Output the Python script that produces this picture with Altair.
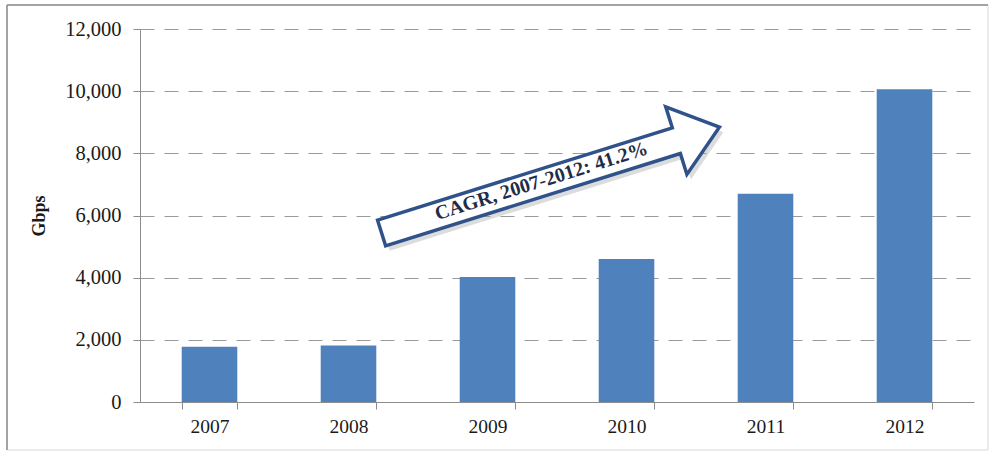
import altair as alt
import pandas as pd

years = ["2007", "2008", "2009", "2010", "2011", "2012"]
gbps = [1780, 1820, 4020, 4600, 6700, 10060]

y_ticks = [0, 2000, 4000, 6000, 8000, 10000, 12000]
y_title = "Gbps"

note_text = ["CAGR, 2007-2012: 41.2%"]
note_year = ["2009"]
arrow_value = [7140]
text_value = [6930]

df = pd.DataFrame({"year": years, "gbps": gbps})
ann = pd.DataFrame({"year": note_year, "arrow_v": arrow_value, "text_v": text_value, "label": note_text})

FONT = "Liberation Serif"

xscale = alt.Scale(domain=years, paddingInner=0.6, paddingOuter=0.3)
yscale = alt.Scale(domain=[0, 12000], nice=False)

bars = alt.Chart(df).mark_bar(color="#4F81BD").encode(
    x=alt.X("year:N", scale=xscale, sort=years,
            axis=alt.Axis(title=None, labelAngle=0, tickBand="extent", grid=False,
                          domainColor="#8c8c8c", tickColor="#8c8c8c", tickSize=7,
                          labelFont=FONT, labelFontSize=19.5, labelColor="#1a1a1a",
                          labelPadding=8)),
    y=alt.Y("gbps:Q", scale=yscale,
            axis=alt.Axis(title=y_title, values=y_ticks, format=",d",
                          titleFont=FONT, titleFontSize=18, titleFontWeight="bold",
                          titleColor="#1a1a1a", titlePadding=16,
                          labelFont=FONT, labelFontSize=20.5, labelColor="#1a1a1a",
                          labelPadding=12, tickSize=7, tickColor="#8c8c8c",
                          domainColor="#8c8c8c",
                          grid=True, gridColor="#9a9a9a", gridDash=[14, 10],
                          gridWidth=1)),
)

arrow_path = ("M -1 -0.076 L 0.745 -0.076 L 0.745 -0.2 L 1 0 L 0.745 0.2 "
              "L 0.745 0.076 L -1 0.076 Z")

shadow = alt.Chart(ann).mark_point(
    shape=arrow_path, size=125316, angle=342.6, filled=True,
    fill="#9a9a9a", opacity=0.35, strokeWidth=0, xOffset=67, yOffset=5,
).encode(x=alt.X("year:N", scale=xscale, sort=years),
         y=alt.Y("arrow_v:Q", scale=yscale))

arrow = alt.Chart(ann).mark_point(
    shape=arrow_path, size=125316, angle=342.6, filled=True,
    fill="white", stroke="#2E5289", strokeWidth=3.5, opacity=1, xOffset=63,
).encode(x=alt.X("year:N", scale=xscale, sort=years),
         y=alt.Y("arrow_v:Q", scale=yscale))

label = alt.Chart(ann).mark_text(
    font=FONT, fontSize=20, fontWeight="bold", color="#1F2D4A",
    angle=342.6, align="center", baseline="middle", dx=53, dy=11,
).encode(x=alt.X("year:N", scale=xscale, sort=years),
         y=alt.Y("text_v:Q", scale=yscale),
         text="label:N")

frame = alt.Chart(ann).mark_rect(fill=None, stroke="#d8d8d8", strokeWidth=1).encode(
    x=alt.value(-133), x2=alt.value(848), y=alt.value(-24), y2=alt.value(421))
frame_top = alt.Chart(ann).mark_rule(color="#8c8c8c", strokeWidth=1.5).encode(
    x=alt.value(-133), x2=alt.value(848), y=alt.value(-24))
frame_left = alt.Chart(ann).mark_rule(color="#8c8c8c", strokeWidth=1.5).encode(
    x=alt.value(-133), y=alt.value(-24), y2=alt.value(421))

chart = alt.layer(frame, frame_top, frame_left, bars, shadow, arrow, label).properties(
    width=834, height=373,
    autosize=alt.AutoSizeParams(type="none"),
    padding={"left": 140, "top": 29, "right": 16, "bottom": 50},
    background="white",
).configure_view(stroke=None)

chart.save("out.html", embed_options={"renderer": "svg", "actions": False})
